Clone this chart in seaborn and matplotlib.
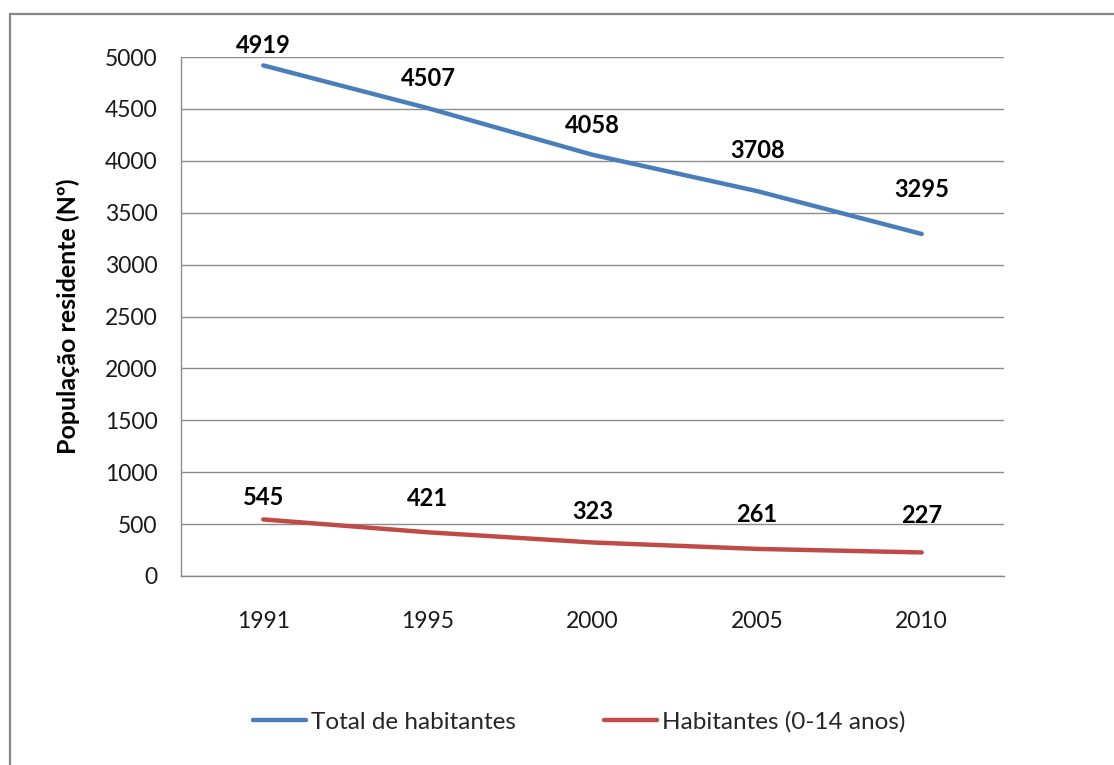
import matplotlib
matplotlib.use("Agg")
import matplotlib.pyplot as plt
import seaborn as sns
import pandas as pd
from matplotlib.patches import Rectangle
from matplotlib.lines import Line2D

years = ["1991", "1995", "2000", "2005", "2010"]
total = [4919, 4507, 4058, 3708, 3295]
young = [545, 421, 323, 261, 227]
series_names = ["Total de habitantes", "Habitantes (0-14 anos)"]
y_ticks = list(range(0, 5001, 500))

colors = ["#4a7ebb", "#be4b48"]
# label offsets above points (points)
off_total = [14, 21.5, 21, 29.5, 32]
off_young = [16, 24.5, 22, 24.5, 26.5]

sns.set_theme(style="white")
plt.rcParams["font.family"] = ["Lato", "DejaVu Sans"]

df = pd.DataFrame({
    "year": years * 2,
    "value": total + young,
    "series": [series_names[0]] * 5 + [series_names[1]] * 5,
})

fig = plt.figure(figsize=(11.14, 7.65), dpi=100)
ax = fig.add_axes([181/1114, 1 - 576/765, (1004-181)/1114, (576-57)/765])

sns.lineplot(data=df, x="year", y="value", hue="series", palette=colors,
             linewidth=3.2, ax=ax, sort=False, legend=False, zorder=3)

ax.set_xlim(-0.5, 4.5)
ax.set_ylim(0, 5000)
ax.set_yticks(y_ticks)
ax.set_yticklabels([str(t) for t in y_ticks])
ax.yaxis.grid(True, color="#8c8c8c", linewidth=1.0)
ax.set_axisbelow(True)
for s in ["top", "right"]:
    ax.spines[s].set_visible(False)
for s in ["left", "bottom"]:
    ax.spines[s].set_color("#8c8c8c")
    ax.spines[s].set_linewidth(1.0)
ax.tick_params(axis="y", length=0, pad=17, labelsize=16.5, labelcolor="#1a1a1a")
ax.tick_params(axis="x", length=0, pad=25, labelsize=16.5, labelcolor="#1a1a1a")
ax.set_xlabel("")
ax.set_ylabel("População residente (Nº)", fontsize=18, fontweight="bold",
              labelpad=18, color="black")

for i, v in enumerate(total):
    ax.annotate(str(v), (i, v), xytext=(0, off_total[i]), textcoords="offset points",
                ha="center", va="center", fontsize=17, fontweight="bold", color="black")
for i, v in enumerate(young):
    ax.annotate(str(v), (i, v), xytext=(0, off_young[i]), textcoords="offset points",
                ha="center", va="center", fontsize=17, fontweight="bold", color="black")

handles = [Line2D([0], [0], color=c, linewidth=3.2) for c in colors]
fig.legend(handles, series_names, loc="center", bbox_to_anchor=(579/1114, 1 - 722/765),
           ncol=2, frameon=False, fontsize=17.5, handlelength=2.2, handletextpad=0.2,
           columnspacing=3.6)

fig.patches.append(Rectangle((10/1114, -0.1), 1.2, (765-14)/765 + 0.1,
                             transform=fig.transFigure, fill=False,
                             edgecolor="#878787", linewidth=1.6))

fig.savefig("out.png", dpi=100, facecolor="white")
